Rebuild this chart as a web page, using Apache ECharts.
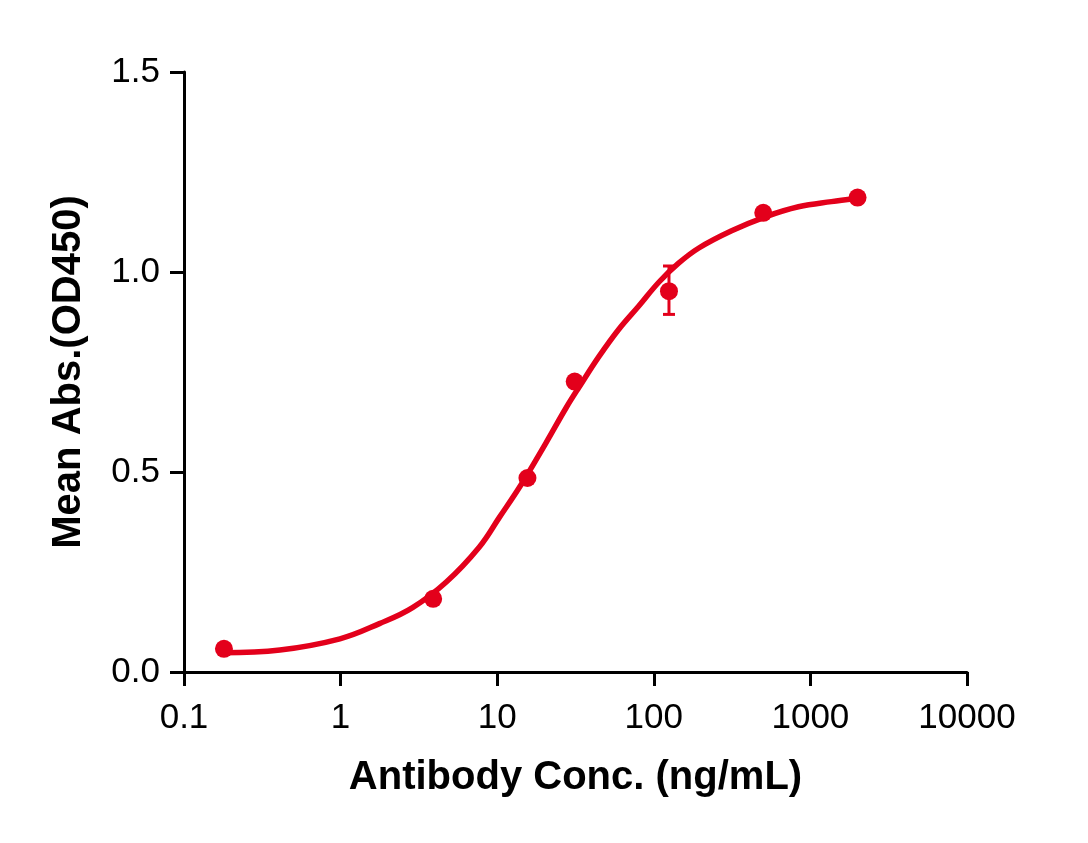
<!DOCTYPE html>
<html lang="en">
<head>
    <meta charset="UTF-8">
    <title>Antibody ELISA</title>
    <script src="https://cdn.jsdelivr.net/npm/echarts@6/dist/echarts.min.js"></script>
    <style>
        html, body {margin: 0; padding: 0; background: #fff;}
        #main {width: 1088px; height: 843px;}
    </style>
</head>
<body>
<div id="main"></div>
<script>
    // measured points (concentration ng/mL, mean OD450)
    var conc = [0.18, 3.9, 15.6, 31.25, 125, 500, 2000];
    var meanAbs = [0.058, 0.183, 0.485, 0.726, 0.952, 1.148, 1.186];
    // error bars (only the one at 125 ng/mL is visible)
    var errLow = [0.058, 0.183, 0.485, 0.726, 0.894, 1.148, 1.186];
    var errHigh = [0.058, 0.183, 0.485, 0.726, 1.015, 1.148, 1.186];

    // fitted curve
    var curveX = [0.177, 0.41, 0.99, 1.77, 2.88, 4.73, 7.67, 10.3, 14.4, 20.5, 27.5, 33.3, 44.7, 59.8, 80.2, 108, 144, 194, 314, 516, 839, 1362, 1905];
    var curveY = [0.048, 0.055, 0.083, 0.121, 0.161, 0.225, 0.312, 0.386, 0.472, 0.573, 0.66, 0.712, 0.789, 0.857, 0.915, 0.975, 1.022, 1.060, 1.103, 1.138, 1.163, 1.176, 1.183];

    var xTicks = [0.1, 1, 10, 100, 1000, 10000];
    var yTicks = [0.0, 0.5, 1.0, 1.5];

    var red = '#E3001B';

    var points = conc.map(function (c, i) { return [c, meanAbs[i]]; });
    var curve = curveX.map(function (c, i) { return [c, curveY[i]]; });
    var errors = conc.map(function (c, i) { return [c, errLow[i], errHigh[i]]; });

    var chart = echarts.init(document.getElementById('main'), null, {renderer: 'canvas'});
    var option = {
        animation: false,
        grid: {left: 184, right: 121, top: 72, bottom: 171, containLabel: false},
        xAxis: {
            type: 'log',
            logBase: 10,
            min: xTicks[0],
            max: xTicks[xTicks.length - 1],
            name: 'Antibody Conc. (ng/mL)',
            nameLocation: 'middle',
            nameGap: 86,
            nameTextStyle: {fontFamily: 'Liberation Sans', fontWeight: 'bold', fontSize: 40, color: '#000'},
            axisLine: {lineStyle: {color: '#000', width: 3}},
            axisTick: {show: true, length: 14, lineStyle: {color: '#000', width: 3}},
            minorTick: {show: false},
            splitLine: {show: false},
            axisLabel: {
                margin: 29, fontFamily: 'Liberation Sans', fontSize: 35, color: '#000',
                formatter: function (v) { return String(v); }
            }
        },
        yAxis: {
            type: 'value',
            min: yTicks[0],
            max: yTicks[yTicks.length - 1],
            interval: 0.5,
            name: 'Mean Abs.(OD450)',
            nameLocation: 'middle',
            nameGap: 95,
            nameTextStyle: {fontFamily: 'Liberation Sans', fontWeight: 'bold', fontSize: 40, color: '#000'},
            axisLine: {show: true, lineStyle: {color: '#000', width: 3}},
            axisTick: {show: true, length: 14, lineStyle: {color: '#000', width: 3}},
            splitLine: {show: false},
            axisLabel: {
                margin: 24, fontFamily: 'Liberation Sans', fontSize: 35, color: '#000',
                formatter: function (v) { return v.toFixed(1); }
            }
        },
        series: [
            {
                name: 'fit',
                type: 'line',
                data: curve,
                smooth: 0.4,
                showSymbol: false,
                lineStyle: {color: red, width: 5.5},
                z: 2
            },
            {
                name: 'error',
                type: 'custom',
                data: errors,
                renderItem: function (params, api) {
                    var x = api.value(0);
                    var lo = api.coord([x, api.value(1)]);
                    var hi = api.coord([x, api.value(2)]);
                    if (Math.abs(lo[1] - hi[1]) < 1) return null;
                    var half = 6;
                    var style = {stroke: red, lineWidth: 3};
                    return {
                        type: 'group',
                        children: [
                            {type: 'line', shape: {x1: lo[0], y1: lo[1], x2: hi[0], y2: hi[1]}, style: style},
                            {type: 'line', shape: {x1: lo[0] - half, y1: lo[1], x2: lo[0] + half, y2: lo[1]}, style: style},
                            {type: 'line', shape: {x1: hi[0] - half, y1: hi[1], x2: hi[0] + half, y2: hi[1]}, style: style}
                        ]
                    };
                },
                z: 3
            },
            {
                name: 'mean',
                type: 'scatter',
                data: points,
                symbol: 'circle',
                symbolSize: 18,
                itemStyle: {color: red, opacity: 1},
                z: 4
            }
        ]
    };
    chart.setOption(option);
</script>
</body>
</html>
